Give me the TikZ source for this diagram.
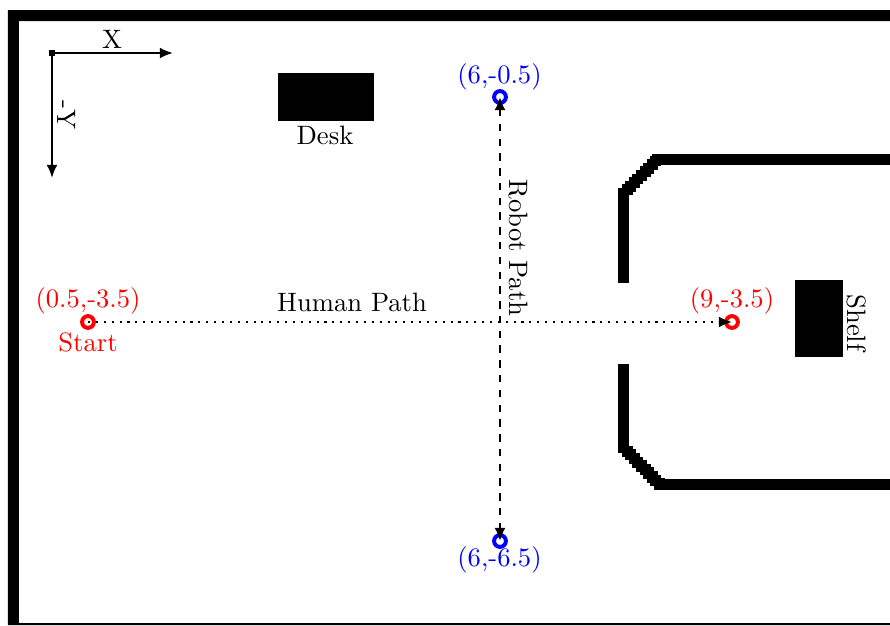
\documentclass[tikz,border=0pt]{standalone}
\usetikzlibrary{arrows.meta}
\tikzset{
  px/.style={x=0.406pt,y=-0.406pt},
  wall/.style={fill=black,draw=none},
  ring/.style={circle,draw=#1,line width=1.6pt,minimum size=4.8pt,inner sep=0pt},
  lab/.style={inner sep=0pt,anchor=center,text=#1,font=\fontsize{10.8}{13}\selectfont},
  lab/.default=black,
  tip/.style={-{Latex[length=5.3pt,width=4.4pt]}},
  conn/.style={line width=0.85pt}
}
\begin{document}
\begin{tikzpicture}[px]
\useasboundingbox (0,0) rectangle (890,625);
% outer walls
\fill[wall] (8,10) -- (890,10) -- (890,21) -- (19,21) -- (19,623) -- (890,623) -- (890,625) -- (8,625) -- cycle;
% inner room, upper part
\fill[wall] (618,188) rectangle (629,283);
\fill[wall] (652,154) rectangle (890,165);
\foreach \i in {0,...,11}{
  \pgfmathsetmacro{\xa}{618+3.6*\i}
  \pgfmathsetmacro{\xb}{\xa+3.8}
  \pgfmathsetmacro{\ya}{max(154,188-3.6*\i)}
  \pgfmathsetmacro{\yb}{206-3.6*\i}
  \fill[wall] (\xa,\ya) rectangle (\xb,\yb);
}
% inner room, lower part
\fill[wall] (618,364) rectangle (629,453);
\fill[wall] (654,479) rectangle (890,490);
\foreach \i in {0,...,12}{
  \pgfmathsetmacro{\xa}{618+3.6*\i}
  \pgfmathsetmacro{\xb}{\xa+3.8}
  \pgfmathsetmacro{\ya}{435+3.6*\i}
  \pgfmathsetmacro{\yb}{min(490,453+3.7*\i)}
  \fill[wall] (\xa,\ya) rectangle (\xb,\yb);
}
% furniture
\fill[wall] (278,73) rectangle (374,121);
\fill[wall] (795,280) rectangle (843,357);
% frame
\node[fill=black,minimum size=2.8pt,inner sep=0pt] (o) at (52,53) {};
\coordinate (xe) at (173,53);
\coordinate (ye) at (52,178);
\draw[conn,tip] (o.center) -- (xe);
\draw[conn,tip] (o.center) -- (ye);
\node[lab] (xl) at (112,39) {X};
\node[lab,rotate=-90] (yl) at (67,115) {-Y};
% points
\node[ring=red] (s) at (88,322) {};
\node[ring=red] (e) at (732,322) {};
\node[ring=blue] (t) at (500,97) {};
\node[ring=blue] (b) at (500,541) {};
% paths
\draw[conn,tip,dash pattern=on 0.85pt off 2.35pt] (s.center) -- (e.center);
\draw[conn,{Latex[length=5.3pt,width=4.4pt]}-{Latex[length=5.3pt,width=4.4pt]},dash pattern=on 3pt off 3pt] (t.center) -- (b.center);
% labels
\node[lab=red] (sl) at (88,300.5) {(0.5,-3.5)};
\node[lab=red] (st) at (88,342.5) {Start};
\node[lab=red] (el) at (732,300.5) {(9,-3.5)};
\node[lab=blue] (tl) at (499.5,76.5) {(6,-0.5)};
\node[lab=blue] (bl) at (499.5,559.5) {(6,-6.5)};
\node[lab] (hp) at (352,302) {Human Path};
\node[lab,rotate=-90] (rp) at (518,248) {Robot Path};
\node[lab] (dk) at (325,135.5) {Desk};
\node[lab,rotate=-90] (sh) at (857,323) {Shelf};
\end{tikzpicture}
\end{document}
